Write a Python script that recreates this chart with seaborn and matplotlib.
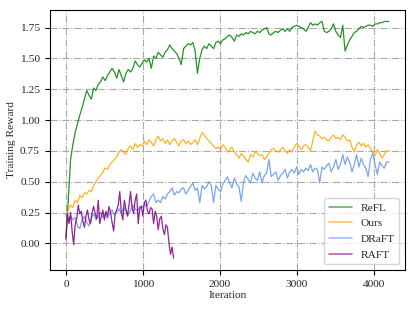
import numpy as np
import pandas as pd
import matplotlib
matplotlib.use("Agg")
import matplotlib.pyplot as plt
import seaborn as sns

# ---- data ----
refl_step = 30
refl = [0.05, 0.35, 0.68, 0.80, 0.90, 0.97, 1.04, 1.10, 1.17, 1.24, 1.20, 1.17, 1.26, 1.24, 1.29, 1.31,
        1.35, 1.32, 1.36, 1.39, 1.42, 1.39, 1.34, 1.41, 1.36, 1.31, 1.38, 1.41, 1.39, 1.42, 1.48, 1.45,
        1.43, 1.46, 1.49, 1.47, 1.50, 1.42, 1.52, 1.50, 1.55, 1.53, 1.51, 1.55, 1.57, 1.61, 1.58, 1.56,
        1.54, 1.50, 1.45, 1.58, 1.60, 1.62, 1.61, 1.63, 1.56, 1.38, 1.50, 1.57, 1.60, 1.58, 1.62, 1.60,
        1.58, 1.63, 1.64, 1.62, 1.65, 1.66, 1.68, 1.69, 1.67, 1.64, 1.69, 1.68, 1.70, 1.69, 1.71, 1.70,
        1.72, 1.71, 1.70, 1.72, 1.71, 1.73, 1.74, 1.75, 1.70, 1.69, 1.71, 1.72, 1.71, 1.73, 1.74, 1.72,
        1.74, 1.72, 1.75, 1.76, 1.77, 1.76, 1.75, 1.74, 1.72, 1.75, 1.79, 1.77, 1.78, 1.77, 1.79, 1.80,
        1.72, 1.71, 1.72, 1.74, 1.78, 1.72, 1.69, 1.67, 1.77, 1.56, 1.61, 1.65, 1.68, 1.71, 1.72, 1.74,
        1.76, 1.75, 1.76, 1.77, 1.77, 1.76, 1.78, 1.78, 1.79, 1.79, 1.80, 1.80, 1.80]

ours_step = 30
ours = [0.22, 0.27, 0.31, 0.29, 0.35, 0.33, 0.39, 0.37, 0.41, 0.40, 0.43, 0.42, 0.47, 0.50, 0.53, 0.55,
        0.58, 0.61, 0.60, 0.64, 0.66, 0.68, 0.70, 0.74, 0.76, 0.74, 0.72, 0.77, 0.79, 0.76, 0.81, 0.78,
        0.80, 0.79, 0.83, 0.80, 0.84, 0.82, 0.79, 0.84, 0.87, 0.83, 0.85, 0.81, 0.84, 0.80, 0.83, 0.85,
        0.82, 0.79, 0.83, 0.84, 0.81, 0.83, 0.80, 0.82, 0.84, 0.80, 0.85, 0.90, 0.88, 0.85, 0.83, 0.81,
        0.79, 0.77, 0.78, 0.76, 0.80, 0.78, 0.74, 0.76, 0.78, 0.74, 0.72, 0.69, 0.73, 0.71, 0.68, 0.66,
        0.72, 0.70, 0.74, 0.73, 0.71, 0.72, 0.68, 0.70, 0.73, 0.76, 0.77, 0.75, 0.74, 0.76, 0.78, 0.75,
        0.73, 0.76, 0.74, 0.78, 0.81, 0.79, 0.76, 0.79, 0.80, 0.78, 0.75, 0.83, 0.91, 0.88, 0.87, 0.85,
        0.86, 0.84, 0.83, 0.86, 0.88, 0.85, 0.86, 0.84, 0.88, 0.86, 0.83, 0.84, 0.78, 0.74, 0.80, 0.82,
        0.79, 0.81, 0.78, 0.80, 0.77, 0.74, 0.71, 0.76, 0.73, 0.69, 0.72, 0.75, 0.75]

draft_step = 30
draft = [0.24, 0.18, 0.22, 0.19, 0.21, 0.14, 0.12, 0.19, 0.22, 0.17, 0.14, 0.21, 0.24, 0.19, 0.22, 0.25,
         0.21, 0.24, 0.20, 0.25, 0.27, 0.23, 0.25, 0.28, 0.24, 0.29, 0.26, 0.23, 0.27, 0.31, 0.28, 0.26,
         0.30, 0.29, 0.32, 0.30, 0.34, 0.38, 0.40, 0.33, 0.35, 0.33, 0.38, 0.36, 0.40, 0.42, 0.45, 0.39,
         0.42, 0.41, 0.44, 0.45, 0.40, 0.43, 0.46, 0.49, 0.43, 0.45, 0.33, 0.47, 0.44, 0.46, 0.50, 0.47,
         0.33, 0.47, 0.44, 0.42, 0.48, 0.51, 0.54, 0.49, 0.45, 0.53, 0.48, 0.46, 0.34, 0.50, 0.55, 0.52,
         0.49, 0.57, 0.53, 0.51, 0.58, 0.49, 0.55, 0.57, 0.68, 0.54, 0.56, 0.58, 0.51, 0.55, 0.57, 0.60,
         0.53, 0.58, 0.60, 0.57, 0.62, 0.56, 0.60, 0.58, 0.61, 0.59, 0.64, 0.58, 0.61, 0.60, 0.49, 0.62,
         0.60, 0.63, 0.65, 0.58, 0.62, 0.68, 0.60, 0.64, 0.72, 0.64, 0.70, 0.66, 0.58, 0.64, 0.72, 0.62,
         0.69, 0.64, 0.61, 0.54, 0.68, 0.73, 0.64, 0.56, 0.66, 0.63, 0.61, 0.66, 0.66]

raft_step = 20
raft = [0.03, 0.24, 0.16, 0.25, 0.10, -0.01, 0.15, 0.20, 0.31, 0.24, 0.26, 0.18, 0.13, 0.22, 0.27, 0.19,
        0.16, 0.25, 0.30, 0.24, 0.20, 0.35, 0.16, 0.22, 0.27, 0.19, 0.26, 0.22, 0.30, 0.25, 0.17, 0.10,
        0.24, 0.27, 0.31, 0.42, 0.25, 0.19, 0.35, 0.28, 0.22, 0.31, 0.42, 0.29, 0.24, 0.35, 0.40, 0.16,
        0.28, 0.30, 0.22, 0.33, 0.35, 0.26, 0.24, 0.29, 0.28, 0.16, 0.26, 0.22, 0.11, 0.20, 0.22, 0.12,
        0.07, 0.15, 0.13, 0.00, -0.09, -0.03, -0.12]

series = [("ReFL", refl, refl_step, "green"),
          ("Ours", ours, ours_step, "orange"),
          ("DRaFT", draft, draft_step, "cornflowerblue"),
          ("RAFT", raft, raft_step, "purple")]

# ---- plotting ----
sns.set_style("ticks")
plt.rcParams["font.family"] = ["Liberation Serif", "DejaVu Serif"]
plt.rcParams["font.size"] = 8
plt.rcParams["mathtext.fontset"] = "stix"

fig = plt.figure(figsize=(4.15, 3.11), dpi=100)
ax = fig.add_axes([0.12, 0.132, 0.856, 0.837])

for name, vals, step, col in series:
    df = pd.DataFrame({"Iteration": np.arange(len(vals)) * step, "Training Reward": vals})
    sns.lineplot(data=df, x="Iteration", y="Training Reward", ax=ax, color=col,
                 label=name, linewidth=0.9, alpha=0.85, estimator=None)

ax.grid(True, linestyle="-.", color="#a8a8a8", linewidth=0.8)
ax.set_axisbelow(True)
ax.set_xticks([0, 1000, 2000, 3000, 4000])
ax.set_yticks([0.0, 0.25, 0.5, 0.75, 1.0, 1.25, 1.5, 1.75])
ax.yaxis.set_major_formatter(matplotlib.ticker.FormatStrFormatter("%.2f"))
ax.tick_params(labelsize=8.2, length=3.5, width=0.8, color="black")
for s in ax.spines.values():
    s.set_visible(True)
    s.set_color("black")
    s.set_linewidth(0.8)
ax.set_xlabel("Iteration", fontsize=8.2, labelpad=2)
ax.set_ylabel("Training Reward", fontsize=8.2, labelpad=3)
leg = ax.legend(loc="lower right", fontsize=8.2, frameon=True, framealpha=0.8,
                edgecolor="#cccccc", fancybox=True)
for line in leg.get_lines():
    line.set_alpha(0.6)
    line.set_linewidth(1.2)

fig.savefig("out.png", dpi=100)
